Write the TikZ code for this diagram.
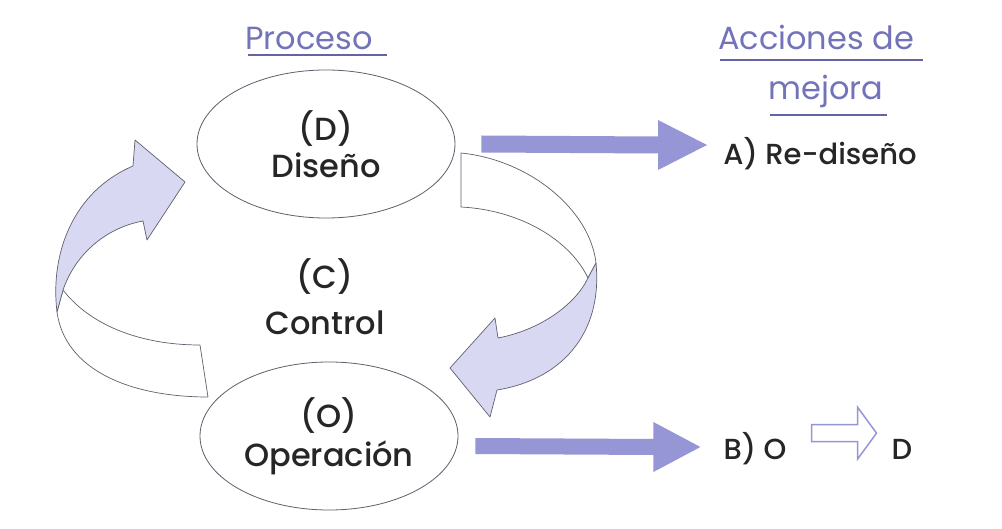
\documentclass[tikz,border=0pt]{standalone}
\usepackage{fontspec}
\setmainfont{Poppins}[UprightFont={* Medium}]
\newfontfamily\headfont{Poppins}
\usetikzlibrary{shapes.geometric,calc}
\definecolor{bandfill}{RGB}{216,216,242}
\definecolor{barfill}{RGB}{150,150,215}
\definecolor{edgegray}{RGB}{95,95,110}
\definecolor{headblue}{RGB}{115,115,185}
\definecolor{ulineblue}{RGB}{100,100,165}
\definecolor{inkgray}{RGB}{38,38,38}
% horizontal block arrow: style, start, tip, half shaft, half head, head length
\newcommand\fatarrow[6]{%
  \filldraw[#1] ($(#2)+(0,-#4)$) -- ($(#3)+(-#6,-#4)$) -- ($(#3)+(-#6,-#5)$) -- (#3)
    -- ($(#3)+(-#6,#5)$) -- ($(#3)+(-#6,#4)$) -- ($(#2)+(0,#4)$) -- cycle;}
\begin{document}
\begin{tikzpicture}[x=1pt,y=-1pt,
  proc/.style={ellipse, draw=edgegray, line width=0.8pt, fill=white,
    minimum width=258pt, minimum height=148pt, inner sep=0pt, align=center,
    text=inkgray, font=\fontsize{32}{37}\selectfont},
  txt/.style={inner sep=0pt, text=inkgray, font=\fontsize{29}{37}\selectfont},
  head/.style={inner sep=0pt, text=headblue, font=\headfont\fontsize{32}{37}\selectfont},
  uline/.style={draw=ulineblue, line width=1.8pt},
  band/.style={fill=bandfill, draw=edgegray, line width=0.7pt, line join=round},
  backband/.style={fill=white, draw=edgegray, line width=0.7pt, line join=round},
  bar/.style={fill=barfill, draw=none},
  hollow/.style={fill=white, draw=barfill, line width=1.5pt, line join=miter}]
\useasboundingbox (0,0) rectangle (1002,529);
\fill[white] (0,0) rectangle (1002,529);

% headings
\node[head, anchor=base] (proc) at (309,50) {Proceso};
\draw[uline] (248,55) -- (387,55);
\node[head, anchor=base] (acc) at (816,50) {Acciones de};
\draw[uline] (720,60) -- (923,60);
\node[head, anchor=base] (mej) at (826,100) {mejora};
\draw[uline] (770,115) -- (887,115);

% cycle arrow on the left, Operación back to Diseño
\draw[backband] (63,290) .. controls (90,325) and (140,345) .. (200,345)
  -- (208,397) .. controls (130,397) and (65,370) .. (57,312) -- cycle;
\draw[band] (57,312) .. controls (50,255) and (72,192) .. (133,166)
  -- (135,140) -- (185,182) -- (147,240) -- (143,221)
  .. controls (105,228) and (75,255) .. (63,290) -- cycle;

% cycle arrow on the right, Diseño down to Operación
\draw[backband] (461,153) .. controls (530,160) and (590,210) .. (596,263)
  -- (588,278) .. controls (570,240) and (520,210) .. (461,207) -- cycle;
\draw[band] (596,263) .. controls (603,335) and (560,380) .. (497,390)
  -- (490,417) -- (450,368) -- (495,318) -- (498,338)
  .. controls (540,330) and (575,305) .. (588,278) -- cycle;

% process stages
\node[proc] (d) at (326,144) {(D)\\Diseño};
\node[proc, font=\fontsize{32}{39}\selectfont] (o) at (329,436) {(O)\\Operación};
\node[txt, align=center, font=\fontsize{32}{46}\selectfont] (c) at (325,297) {(C)\\Control};

% improvement actions
\node[txt, anchor=base] (redis) at (820,165) {A) Re-diseño};
\node[txt, anchor=base] (bo) at (755,460) {B) O};
\node[txt, anchor=base] (dd) at (902,460) {D};

% block arrows
\coordinate (a1s) at ($(d.east)+(26,0)$);
\coordinate (a1t) at (707,145);
\fatarrow{bar}{a1s}{a1t}{8.5}{25}{49}
\coordinate (a2s) at ($(o.east)+(17,10)$);
\coordinate (a2t) at ($(a2s -| bo.west)+(-23,1)$);
\fatarrow{bar}{a2s}{a2t}{8}{25}{47}
\coordinate (a3s) at ($(bo.east)+(25,-16)$);
\coordinate (a3t) at ($(a3s -| dd.west)+(-15,0)$);
\fatarrow{hollow}{a3s}{a3t}{8.5}{26}{19}
\end{tikzpicture}
\end{document}
